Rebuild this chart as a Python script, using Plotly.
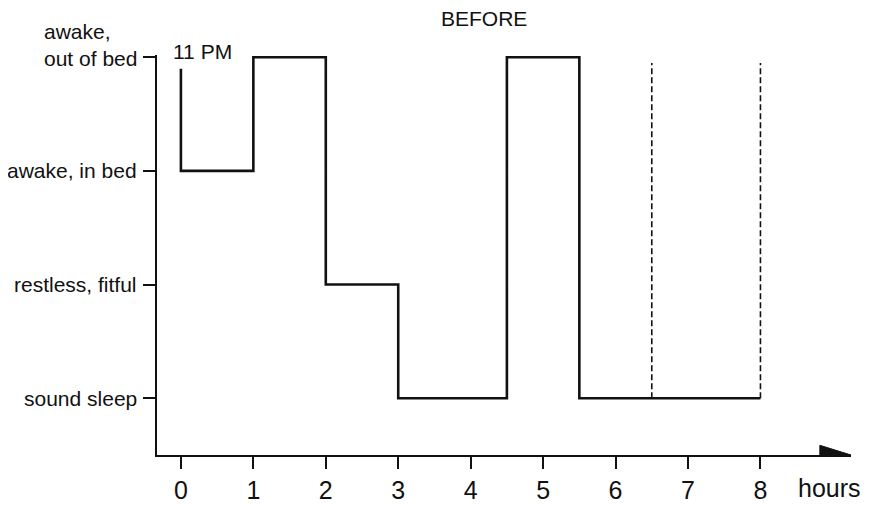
import plotly.graph_objects as go

# ---- data ----
step_hours = [0, 0, 1, 2, 3, 4.5, 5.5, 8]
step_state = [2.9, 2, 3, 1, 0, 3, 0, 0]
dashed_hours = [6.5, 8]
dashed_top = 2.95
state_levels = [0, 1, 2, 3]
state_labels = ["sound sleep", "restless, fitful", "awake, in bed", "awake,<br>out of bed"]
hour_ticks = [0, 1, 2, 3, 4, 5, 6, 7, 8]
title_text = "BEFORE"
start_label = "11 PM"
x_unit = "hours"

FONT = "Liberation Sans, Arial, Helvetica, sans-serif"
INK = "#111111"

fig = go.Figure()

fig.add_trace(go.Scatter(
    x=step_hours, y=step_state, mode="lines",
    line=dict(color=INK, width=2.6, shape="hv"),
    hoverinfo="skip", showlegend=False, cliponaxis=False,
))

for hx in dashed_hours:
    fig.add_trace(go.Scatter(
        x=[hx, hx], y=[0, dashed_top], mode="lines",
        line=dict(color=INK, width=1.6, dash="6px,3px"),
        hoverinfo="skip", showlegend=False,
    ))

XMIN, XMAX = -0.33, 9.25
YMIN, YMAX = -0.5, 3.02

# arrow head at end of the x axis
fig.add_shape(type="path", xref="x", yref="y",
              path=f"M 8.82,{YMIN + 0.085} L {XMAX},{YMIN} L 8.82,{YMIN - 0.085} Z",
              fillcolor=INK, line=dict(color=INK, width=1), layer="above")

annotations = []
for lv, lab in zip(state_levels, state_labels):
    two = "<br>" in lab
    annotations.append(dict(
        x=XMIN, y=lv, xref="x", yref="y", text=lab, showarrow=False,
        xanchor="right", yanchor="middle", align="left",
        xshift=-18, yshift=12 if two else 0,
        font=dict(family=FONT, size=21, color=INK),
    ))

annotations.append(dict(x=4.185, y=YMAX, xref="x", yref="y", text=title_text,
                        showarrow=False, xanchor="center", yanchor="middle",
                        yshift=37,
                        font=dict(family=FONT, size=21, color=INK)))
annotations.append(dict(x=0.297, y=3, xref="x", yref="y", text=start_label,
                        showarrow=False, xanchor="center", yanchor="middle",
                        yshift=6,
                        font=dict(family=FONT, size=21, color=INK)))
annotations.append(dict(x=8.96, y=YMIN, xref="x", yref="y", text=x_unit,
                        showarrow=False, xanchor="center", yanchor="middle",
                        yshift=-33,
                        font=dict(family=FONT, size=25, color=INK)))

fig.update_layout(
    width=854, height=505,
    margin=dict(l=149, r=11, t=47, b=58),
    paper_bgcolor="white", plot_bgcolor="white",
    annotations=annotations,
    xaxis=dict(range=[XMIN, XMAX], showgrid=False, zeroline=False,
               automargin=False,
               showline=True, linecolor=INK, linewidth=2.2,
               tickmode="array", tickvals=hour_ticks,
               ticktext=[str(h) for h in hour_ticks],
               ticks="outside", ticklen=12, tickwidth=2, tickcolor=INK,
               tickfont=dict(family=FONT, size=25, color=INK)),
    yaxis=dict(range=[YMIN, YMAX], showgrid=False, zeroline=False,
               automargin=False,
               showline=True, linecolor=INK, linewidth=2.2,
               tickmode="array", tickvals=state_levels,
               ticks="outside", ticklen=12, tickwidth=2, tickcolor=INK,
               showticklabels=False),
)

fig.write_html("out.html")
